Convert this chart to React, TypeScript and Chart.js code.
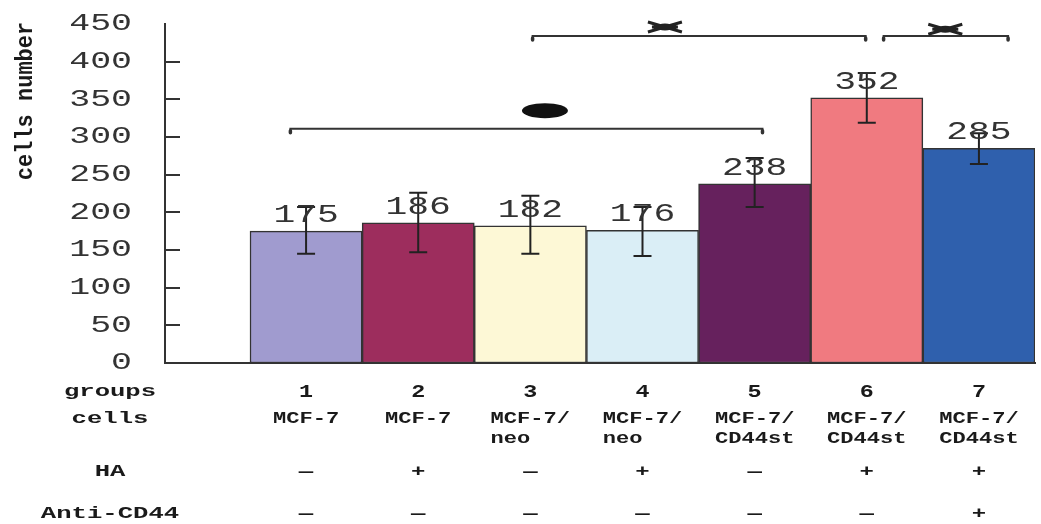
import React, { useEffect, useRef } from 'react';
import { Chart, registerables } from 'chart.js';

Chart.register(...registerables);

// ---- data ----
const groupNumbers = ['1', '2', '3', '4', '5', '6', '7'];
const cellLine1 = ['MCF-7', 'MCF-7', 'MCF-7/', 'MCF-7/', 'MCF-7/', 'MCF-7/', 'MCF-7/'];
const cellLine2 = ['', '', 'neo', 'neo', 'CD44st', 'CD44st', 'CD44st'];
const haRow = ['—', '+', '—', '+', '—', '+', '+'];
const antiCD44Row = ['—', '—', '—', '—', '—', '—', '+'];
const rowLabels = ['groups', 'cells', 'HA', 'Anti-CD44'];
const cellCounts = [175, 186, 182, 176, 238, 352, 285];
const errorLow = [145, 147, 145, 142, 207, 319, 264];
const errorHigh = [207, 226, 222, 207, 272, 385, 305];
const barColors = ['#a09bcf', '#9d2d5d', '#fdf8d6', '#daeef6', '#66215d', '#f07a80', '#2f60ad'];
const yAxisTitle = 'cells number';
const yMax = 450;
const yStep = 50;
// significance brackets (x in group units, y in cells)
const bracketFrom = [0.86, 3.02, 6.15];
const bracketTo = [5.07, 5.99, 7.26];
const bracketLevel = [311, 434, 434];
const dotX = [3.13];
const dotY = [335];
const starX = [4.2, 6.7];
const starY = [446, 443];

const MONO = '"Liberation Mono", "DejaVu Sans Mono", monospace';

function stretchText(ctx: CanvasRenderingContext2D, text: string, x: number, y: number, sx: number, align: CanvasTextAlign) {
  ctx.save();
  ctx.translate(x, y);
  ctx.scale(sx, 1);
  ctx.textAlign = align;
  ctx.fillText(text, 0, 0);
  ctx.restore();
}

export default function App() {
  const ref = useRef<HTMLCanvasElement>(null);

  useEffect(() => {
    const canvas = ref.current;
    if (!canvas) return;

    const annotate = {
      id: 'annotate',
      afterDatasetsDraw(chart: any) {
        const ctx: CanvasRenderingContext2D = chart.ctx;
        const xs = chart.scales.x;
        const ys = chart.scales.y;
        const area = chart.chartArea;
        ctx.save();

        // inner tick marks on y axis
        ctx.strokeStyle = '#333';
        ctx.lineWidth = 2;
        ys.ticks.forEach((t: any) => {
          if (t.value <= 0 || t.value >= yMax) return;
          const py = Math.round(ys.getPixelForValue(t.value));
          ctx.beginPath();
          ctx.moveTo(area.left, py);
          ctx.lineTo(area.left + 15, py);
          ctx.stroke();
        });

        // error bars
        ctx.strokeStyle = '#222';
        ctx.lineWidth = 2;
        cellCounts.forEach((_, i) => {
          const px = xs.getPixelForValue(i + 1);
          const lo = ys.getPixelForValue(errorLow[i]);
          const hi = ys.getPixelForValue(errorHigh[i]);
          ctx.beginPath();
          ctx.moveTo(px, lo);
          ctx.lineTo(px, hi);
          ctx.moveTo(px - 9, lo);
          ctx.lineTo(px + 9, lo);
          ctx.moveTo(px - 9, hi);
          ctx.lineTo(px + 9, hi);
          ctx.stroke();
        });

        // value labels
        ctx.fillStyle = '#333';
        ctx.font = `25px ${MONO}`;
        ctx.textBaseline = 'alphabetic';
        cellCounts.forEach((v, i) => {
          const px = xs.getPixelForValue(i + 1);
          const py = ys.getPixelForValue(v) - 9;
          stretchText(ctx, String(v), px, py, 1.45, 'center');
        });

        // brackets
        ctx.strokeStyle = '#333';
        ctx.lineWidth = 2;
        ctx.lineCap = 'round';
        bracketFrom.forEach((f, i) => {
          const x1 = xs.getPixelForValue(f);
          const x2 = xs.getPixelForValue(bracketTo[i]);
          const py = ys.getPixelForValue(bracketLevel[i]);
          ctx.beginPath();
          ctx.moveTo(x1, py + 4);
          ctx.lineTo(x1, py);
          ctx.lineTo(x2, py);
          ctx.lineTo(x2, py + 4);
          ctx.stroke();
          ctx.lineWidth = 3.5;
          ctx.beginPath();
          ctx.moveTo(x1, py + 2);
          ctx.lineTo(x1, py + 4);
          ctx.moveTo(x2, py + 2);
          ctx.lineTo(x2, py + 4);
          ctx.stroke();
          ctx.lineWidth = 2;
        });
        ctx.lineCap = 'butt';

        // dot mark
        ctx.fillStyle = '#111';
        dotX.forEach((dx, i) => {
          const px = xs.getPixelForValue(dx);
          const py = ys.getPixelForValue(dotY[i]);
          ctx.beginPath();
          ctx.ellipse(px, py, 23, 7.5, 0, 0, Math.PI * 2);
          ctx.fill();
        });

        // star marks
        ctx.strokeStyle = '#222';
        ctx.fillStyle = '#222';
        ctx.lineWidth = 3;
        starX.forEach((sxv, i) => {
          const px = xs.getPixelForValue(sxv);
          const py = ys.getPixelForValue(starY[i]);
          ctx.beginPath();
          ctx.moveTo(px - 17, py - 5);
          ctx.lineTo(px + 17, py + 5);
          ctx.moveTo(px - 17, py + 5);
          ctx.lineTo(px + 17, py - 5);
          ctx.moveTo(px - 13, py);
          ctx.lineTo(px + 13, py);
          ctx.stroke();
          ctx.beginPath();
          ctx.ellipse(px, py, 8, 3.5, 0, 0, Math.PI * 2);
          ctx.fill();
        });

        // table under the axis
        const base = area.bottom;
        const rowY = [base + 29, base + 56, base + 109, base + 151];
        const line2Y = base + 76;
        const labelX = area.left - 55;
        ctx.fillStyle = '#1a1a1a';
        ctx.textBaseline = 'middle';
        ctx.font = `bold 16px ${MONO}`;
        rowLabels.forEach((lbl, r) => {
          stretchText(ctx, lbl, labelX, rowY[r], 1.6, 'center');
        });
        groupNumbers.forEach((g, i) => {
          const px = xs.getPixelForValue(i + 1);
          ctx.font = `bold 18px ${MONO}`;
          stretchText(ctx, g, px, rowY[0], 1.3, 'center');
          ctx.font = `bold 16px ${MONO}`;
          const w1 = ctx.measureText(cellLine1[i]).width * 1.38;
          stretchText(ctx, cellLine1[i], px, rowY[1], 1.38, 'center');
          if (cellLine2[i]) stretchText(ctx, cellLine2[i], px - w1 / 2, line2Y, 1.38, 'left');
          stretchText(ctx, haRow[i], px, rowY[2], 1.5, 'center');
          stretchText(ctx, antiCD44Row[i], px, rowY[3], 1.5, 'center');
        });

        // y axis title
        ctx.save();
        ctx.translate(area.left - 139, area.top + 77);
        ctx.rotate(-Math.PI / 2);
        ctx.scale(1, 1.1);
        ctx.font = `bold 22px ${MONO}`;
        ctx.textAlign = 'center';
        ctx.textBaseline = 'middle';
        ctx.fillStyle = '#1a1a1a';
        ctx.fillText(yAxisTitle, 0, 0);
        ctx.restore();

        ctx.restore();

        // widen the y tick labels (drawn next, in their own layer)
        const pivot = area.left - 33;
        ctx.save();
        ctx.translate(pivot, 0);
        ctx.scale(1.45, 1);
        ctx.translate(-pivot, 0);
      },
      afterDraw(chart: any) {
        chart.ctx.restore();
      },
    };

    const chart = new Chart(canvas, {
      type: 'bar',
      data: {
        datasets: [
          {
            data: cellCounts.map((v, i) => ({ x: i + 1, y: v })),
            backgroundColor: barColors,
            borderColor: '#333',
            borderWidth: 1.5,
            borderSkipped: false,
            barPercentage: 1,
            categoryPercentage: 1,
          },
        ],
      },
      options: {
        responsive: false,
        animation: false,
        layout: { padding: { left: 0, right: 6, top: 24, bottom: 161 } },
        plugins: { legend: { display: false }, tooltip: { enabled: false } },
        scales: {
          x: {
            type: 'linear',
            offset: false,
            min: -0.258,
            max: 7.5,
            grid: { display: false, drawTicks: false, offset: false },
            border: { display: true, color: '#333', width: 2 },
            ticks: { display: false },
            afterBuildTicks: (s: any) => {
              s.ticks = groupNumbers.map((_, i) => ({ value: i + 1 }));
            },
            afterFit: (s: any) => {
              s.height = 0;
              s.paddingLeft = 0;
              s.paddingRight = 0;
            },
          },
          y: {
            min: 0,
            max: yMax,
            grid: { display: false, drawTicks: false },
            border: { display: true, color: '#333', width: 2 },
            ticks: {
              stepSize: yStep,
              padding: 33,
              z: 1,
              color: '#333',
              font: { family: MONO, size: 24 },
            },
            afterFit: (s: any) => {
              s.width = 165;
              s.paddingTop = 0;
              s.paddingBottom = 0;
            },
          },
        },
      } as any,
      plugins: [annotate],
    });

    return () => chart.destroy();
  }, []);

  return (
    <div style={{ position: 'absolute', left: 0, top: 0, width: 1041, height: 524, background: '#fff' }}>
      <canvas ref={ref} width={1041} height={524} />
    </div>
  );
}
